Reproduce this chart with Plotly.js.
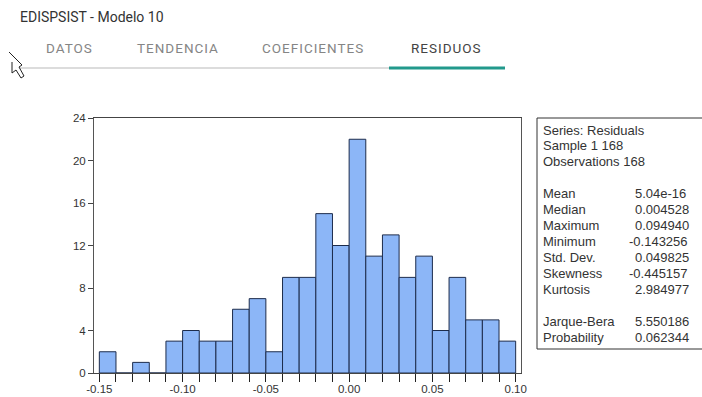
<!DOCTYPE html>
<html>
<head>
<meta charset="utf-8">
<script src="https://cdn.plot.ly/plotly-3.0.1.min.js"></script>
<style>
  html, body { margin: 0; padding: 0; background: #fff; }
  #chart { width: 702px; height: 397px; }
</style>
</head>
<body>
<div id="chart"></div>
<script>
// Histogram of model residuals: bin lower edges (width 0.01) and counts
const binLeft = [-0.15, -0.14, -0.13, -0.12, -0.11, -0.10, -0.09, -0.08, -0.07, -0.06,
                 -0.05, -0.04, -0.03, -0.02, -0.01, 0.00, 0.01, 0.02, 0.03, 0.04,
                 0.05, 0.06, 0.07, 0.08, 0.09];
const counts = [2, 0, 1, 0, 3, 4, 3, 3, 6, 7,
                2, 9, 9, 15, 12, 22, 11, 13, 9, 11,
                4, 9, 5, 5, 3];
const binWidth = 0.01;

const xTickVals = [-0.15, -0.10, -0.05, 0.00, 0.05, 0.10];
const xTickText = ['-0.15', '-0.10', '-0.05', '0.00', '0.05', '0.10'];
const yTickVals = [0, 4, 8, 12, 16, 20, 24];

// Summary statistics panel
const statHeader = ['Series: Residuals', 'Sample 1 168', 'Observations 168'];
const statNames = ['Mean', 'Median', 'Maximum', 'Minimum', 'Std. Dev.', 'Skewness', 'Kurtosis'];
const statValues = ['5.04e-16', '0.004528', '0.094940', '-0.143256', '0.049825', '-0.445157', '2.984977'];
const testNames = ['Jarque-Bera', 'Probability'];
const testValues = ['5.550186', '0.062344'];

// Tabs above the chart
const pageTitle = 'EDISPSIST - Modelo 10';
const tabs = ['DATOS', 'TENDENCIA', 'COEFICIENTES', 'RESIDUOS'];
const activeTab = 'RESIDUOS';

// Plot area in pixels
const L = 94, R = 521, T = 118, B = 373, W = 702, H = 397;
const px = x => (x - L) / (R - L);
const py = y => (B - y) / (B - T);

const chartFont = 'Arial, "Liberation Sans", sans-serif';
const uiFont = 'Roboto, "Noto Sans", sans-serif';

const annotations = [];
const shapes = [];

// Page title and tabs
annotations.push({
  text: pageTitle, xref: 'paper', yref: 'paper', x: px(18), y: py(17),
  xanchor: 'left', yanchor: 'middle', showarrow: false,
  font: { family: uiFont, size: 14, color: '#333' }
});
const tabCenters = [69, 178, 313, 446];
tabs.forEach((t, i) => {
  annotations.push({
    text: '<span style="letter-spacing:1px">' + t + '</span>',
    xref: 'paper', yref: 'paper', x: px(tabCenters[i]), y: py(48),
    xanchor: 'center', yanchor: 'middle', showarrow: false,
    font: { family: uiFont, size: 13.5, color: t === activeTab ? '#444' : '#858585' }
  });
});
shapes.push({
  type: 'line', xref: 'paper', yref: 'paper',
  x0: px(20), x1: px(390), y0: py(68), y1: py(68),
  line: { color: '#dcdcdc', width: 2 }
});
shapes.push({
  type: 'line', xref: 'paper', yref: 'paper',
  x0: px(389), x1: px(505), y0: py(68), y1: py(68),
  line: { color: '#22998c', width: 3 }
});

// Mouse pointer
const cursorPts = [[9, 52], [22, 65], [19, 67], [24, 76], [21, 78], [16, 70], [12, 73], [12, 62]];
const cursorPath = 'M ' + cursorPts.map(p => px(p[0]) + ',' + py(p[1])).join(' L ');
shapes.push({
  type: 'path', xref: 'paper', yref: 'paper', path: cursorPath,
  line: { color: '#222', width: 1 }, fillcolor: 'rgba(255,255,255,1)'
});

// Statistics box
shapes.push({
  type: 'rect', xref: 'paper', yref: 'paper',
  x0: px(537), x1: px(712), y0: py(349), y1: py(118),
  line: { color: '#333', width: 1 }, fillcolor: 'rgba(0,0,0,0)'
});
const statFont = { family: chartFont, size: 13, color: '#333' };
function statLine(text, xPix, yPix) {
  annotations.push({
    text: text, xref: 'paper', yref: 'paper', x: px(xPix), y: py(yPix),
    xanchor: 'left', yanchor: 'middle', showarrow: false, font: statFont
  });
}
const rowStep = 16;
statHeader.forEach((s, i) => statLine(s, 541, 130 + i * 15.5));
statNames.forEach((s, i) => {
  statLine(s, 541, 193 + i * rowStep);
  const v = statValues[i];
  statLine(v, v.startsWith('-') ? 627 : 633, 193 + i * rowStep);
});
testNames.forEach((s, i) => {
  statLine(s, 541, 321 + i * rowStep);
  statLine(testValues[i], 633, 321 + i * rowStep);
});

const trace = {
  type: 'bar',
  x: binLeft,
  y: counts,
  width: binWidth,
  offset: 0,
  marker: { color: '#8cb6f7', line: { color: '#1d2c4c', width: 1 } },
  hoverinfo: 'x+y'
};

const layout = {
  width: W, height: H,
  margin: { l: L, r: W - R, t: T, b: H - B, pad: 0 },
  paper_bgcolor: '#fff', plot_bgcolor: '#fff',
  showlegend: false,
  bargap: 0,
  xaxis: {
    range: [-0.1532, 0.1032],
    tickvals: xTickVals, ticktext: xTickText,
    ticks: 'outside', ticklen: 5, tickcolor: '#222', tickwidth: 1,
    minor: { dtick: 0.01, tick0: -0.15, ticks: 'outside', ticklen: 8, tickcolor: '#222', showgrid: false },
    showgrid: false, zeroline: false,
    showline: true, linecolor: '#444', linewidth: 1, mirror: true,
    tickfont: { family: chartFont, size: 11.5, color: '#333' }
  },
  yaxis: {
    range: [0, 24],
    tickvals: yTickVals,
    ticks: 'outside', ticklen: 5, tickcolor: '#444',
    showgrid: false, zeroline: false,
    showline: true, linecolor: '#555', linewidth: 1, mirror: true,
    tickfont: { family: chartFont, size: 11.5, color: '#333' }
  },
  annotations: annotations,
  shapes: shapes
};

Plotly.newPlot('chart', [trace], layout, { displayModeBar: false, staticPlot: true });
</script>
</body>
</html>
